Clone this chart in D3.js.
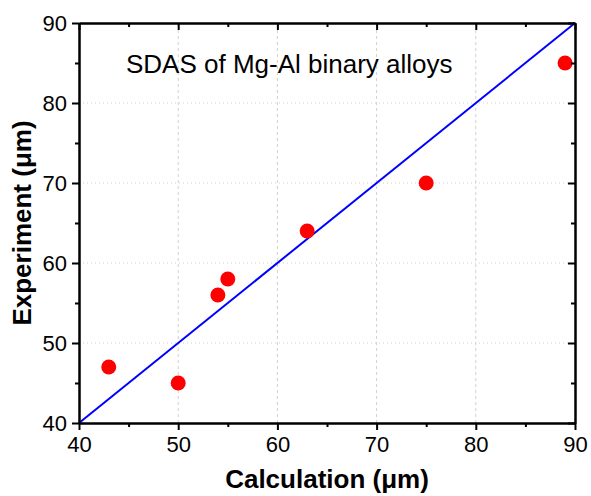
<!DOCTYPE html>
<html>
<head>
<meta charset="utf-8">
<script src="https://cdn.jsdelivr.net/npm/d3@7"></script>
<style>
  html, body { margin: 0; padding: 0; background: #fff; }
  svg { display: block; }
  text { font-family: "Liberation Sans", Arial, sans-serif; }
</style>
</head>
<body>
<svg id="chart" width="591" height="496"></svg>
<script>
// Measured vs. calculated secondary dendrite arm spacing (µm)
const calculated = [43, 50, 54, 55, 63, 75, 89];
const experiment = [47, 45, 56, 58, 64, 70, 85];
const xTicks = [40, 50, 60, 70, 80, 90];
const yTicks = [40, 50, 60, 70, 80, 90];
const minorTicks = [45, 55, 65, 75, 85];
const gridValues = [50, 60, 70, 80];
const refLine = [40, 90];

const svg = d3.select("#chart");
const margin = { left: 79, right: 16, top: 23, bottom: 73 };
const W = 591, H = 496;

const x = d3.scaleLinear().domain([40, 90]).range([margin.left, W - margin.right]);
const y = d3.scaleLinear().domain([40, 90]).range([H - margin.bottom, margin.top]);

// grid
svg.append("g").selectAll("line").data(gridValues).join("line")
  .attr("x1", d => x(d)).attr("x2", d => x(d))
  .attr("y1", y(40)).attr("y2", y(90))
  .attr("stroke", "#d0d0d0").attr("stroke-width", 1).attr("stroke-dasharray", "3,3");
svg.append("g").selectAll("line").data(gridValues).join("line")
  .attr("y1", d => y(d)).attr("y2", d => y(d))
  .attr("x1", x(40)).attr("x2", x(90))
  .attr("stroke", "#d0d0d0").attr("stroke-width", 1).attr("stroke-dasharray", "1,3");

// y = x reference line
svg.append("line")
  .attr("x1", x(refLine[0])).attr("y1", y(refLine[0]))
  .attr("x2", x(refLine[1])).attr("y2", y(refLine[1]))
  .attr("stroke", "#0000ff").attr("stroke-width", 2);

// data points
svg.append("g").selectAll("circle").data(calculated).join("circle")
  .attr("cx", d => x(d))
  .attr("cy", (d, i) => y(experiment[i]))
  .attr("r", 7.5)
  .attr("fill", "#ff0000");

// axes
function styleAxis(g) {
  g.select(".domain").attr("stroke", "#000").attr("stroke-width", 2);
  g.selectAll(".tick line").attr("stroke", "#000").attr("stroke-width", 2);
  g.selectAll(".tick text").attr("font-size", 22).attr("fill", "#000")
    .style("font-family", "'Liberation Sans', Arial, sans-serif");
}

const xAxis = svg.append("g").attr("transform", `translate(0,${y(40)})`)
  .call(d3.axisBottom(x).tickValues(xTicks).tickSize(7).tickPadding(6).tickSizeOuter(0));
styleAxis(xAxis);
const xMinor = svg.append("g").attr("transform", `translate(0,${y(40)})`)
  .call(d3.axisBottom(x).tickValues(minorTicks).tickSize(4).tickFormat("").tickSizeOuter(0));
styleAxis(xMinor);

const yAxis = svg.append("g").attr("transform", `translate(${x(40)},0)`)
  .call(d3.axisLeft(y).tickValues(yTicks).tickSize(7).tickPadding(5).tickSizeOuter(0));
styleAxis(yAxis);
yAxis.selectAll(".tick text").attr("dy", "0.36em");
const yMinor = svg.append("g").attr("transform", `translate(${x(40)},0)`)
  .call(d3.axisLeft(y).tickValues(minorTicks).tickSize(4).tickFormat("").tickSizeOuter(0));
styleAxis(yMinor);

// top and right frame with inward ticks
const xTop = svg.append("g").attr("transform", `translate(0,${y(90)})`)
  .call(d3.axisBottom(x).tickValues(xTicks).tickSize(7).tickFormat("").tickSizeOuter(0));
styleAxis(xTop);
const xTopMinor = svg.append("g").attr("transform", `translate(0,${y(90)})`)
  .call(d3.axisBottom(x).tickValues(minorTicks).tickSize(4).tickFormat("").tickSizeOuter(0));
styleAxis(xTopMinor);
const yRight = svg.append("g").attr("transform", `translate(${x(90)},0)`)
  .call(d3.axisLeft(y).tickValues(yTicks).tickSize(7).tickFormat("").tickSizeOuter(0));
styleAxis(yRight);
const yRightMinor = svg.append("g").attr("transform", `translate(${x(90)},0)`)
  .call(d3.axisLeft(y).tickValues(minorTicks).tickSize(4).tickFormat("").tickSizeOuter(0));
styleAxis(yRightMinor);

// annotation
svg.append("text")
  .attr("x", 126).attr("y", 73)
  .attr("font-size", 26)
  .attr("fill", "#000")
  .text("SDAS of Mg-Al binary alloys");

// axis titles
svg.append("text")
  .attr("x", (x(40) + x(90)) / 2).attr("y", 488)
  .attr("text-anchor", "middle")
  .attr("font-size", 26).attr("font-weight", "bold")
  .text("Calculation (μm)");

svg.append("text")
  .attr("transform", `translate(31,${(y(40) + y(90)) / 2}) rotate(-90)`)
  .attr("text-anchor", "middle")
  .attr("font-size", 26).attr("font-weight", "bold")
  .text("Experiment (μm)");
</script>
</body>
</html>
